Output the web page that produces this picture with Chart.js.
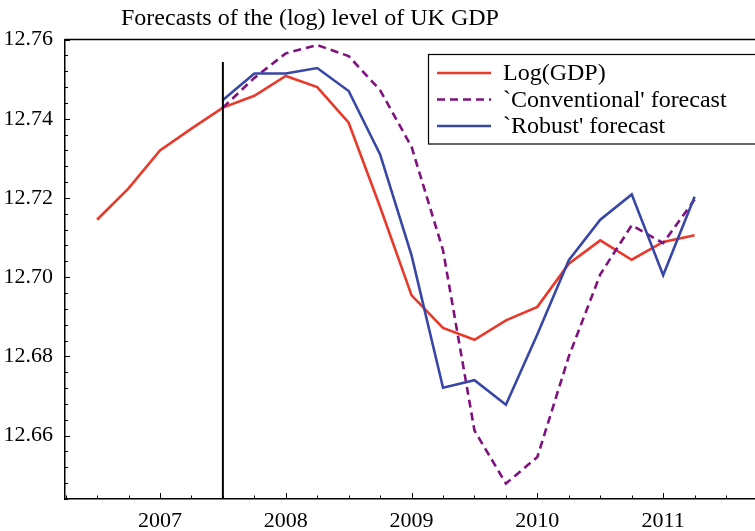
<!DOCTYPE html>
<html>
<head>
<meta charset="utf-8">
<script src="https://cdn.jsdelivr.net/npm/chart.js@4"></script>
<style>
  html, body { margin: 0; padding: 0; background: #fff; }
  #wrap { width: 755px; height: 531px; }
</style>
</head>
<body>
<div id="wrap"><canvas id="graf1"></canvas></div>
<script>
// quarterly dates (decimal years)
var quarters = [2006.5, 2006.75, 2007, 2007.25, 2007.5, 2007.75, 2008, 2008.25, 2008.5, 2008.75,
                2009, 2009.25, 2009.5, 2009.75, 2010, 2010.25, 2010.5, 2010.75, 2011, 2011.25];
var logGDP = [12.7145, 12.7224, 12.7320, 12.7375, 12.7428, 12.7458, 12.7508, 12.7480, 12.7390, 12.7177,
              12.6954, 12.6872, 12.6842, 12.6891, 12.6925, 12.7034, 12.7093, 12.7044, 12.7089, 12.7106];
// forecasts start at 2007Q3
var forecastQuarters = quarters.slice(4);
var conventional = [12.7428, 12.7503, 12.7565, 12.7586, 12.7558, 12.7472, 12.7329, 12.7068,
                    12.6613, 12.6479, 12.6546, 12.6800, 12.7007, 12.7131, 12.7086, 12.7196];
var robust = [12.7447, 12.7514, 12.7514, 12.7528, 12.7470, 12.7310, 12.7055, 12.6721,
              12.6740, 12.6678, 12.6856, 12.7043, 12.7145, 12.7209, 12.7005, 12.7203];

var xYears = [2007, 2008, 2009, 2010, 2011];
var yMajor = [12.66, 12.68, 12.70, 12.72, 12.74, 12.76];
var xRange = [2006.245, 2011.73];
var yRange = [12.644, 12.76];
var forecastStart = 2007.5;
var forecastLineTop = 12.7543;

var serif = "'Liberation Serif', 'DejaVu Serif', serif";
Chart.defaults.font.family = serif;
Chart.defaults.font.size = 22;
Chart.defaults.color = '#000';

function pts(xs, ys) {
  return xs.map(function(x, i) { return { x: x, y: ys[i] }; });
}
function isMajor(v, list) {
  return list.some(function(m) { return Math.abs(m - v) < 1e-6; });
}

// title, top border, inner tick marks, forecast line and legend
var decorations = {
  id: 'decorations',
  afterDraw: function(chart) {
    var ctx = chart.ctx;
    var area = chart.chartArea;
    var xs = chart.scales.x, ys = chart.scales.y;
    ctx.save();

    ctx.fillStyle = '#000';
    ctx.font = '24px ' + serif;
    ctx.textAlign = 'left';
    ctx.textBaseline = 'alphabetic';
    ctx.fillText('Forecasts of the (log) level of UK GDP', 121, 25);

    ctx.strokeStyle = '#000';
    ctx.lineWidth = 1.5;
    ctx.beginPath();
    ctx.moveTo(area.left, area.top);
    ctx.lineTo(area.right, area.top);
    ctx.stroke();

    ctx.lineWidth = 1;
    ctx.beginPath();
    xs.ticks.forEach(function(t) {
      var px = Math.round(xs.getPixelForValue(t.value)) + 0.5;
      var len = isMajor(t.value, xYears) ? 6 : 3.5;
      ctx.moveTo(px, area.bottom);
      ctx.lineTo(px, area.bottom - len);
    });
    ys.ticks.forEach(function(t) {
      var py = Math.round(ys.getPixelForValue(t.value)) + 0.5;
      var len = isMajor(t.value, yMajor) ? 5 : 3;
      ctx.moveTo(area.left, py);
      ctx.lineTo(area.left + len, py);
    });
    ctx.stroke();

    var vx = xs.getPixelForValue(forecastStart);
    ctx.lineWidth = 2;
    ctx.beginPath();
    ctx.moveTo(vx, ys.getPixelForValue(forecastLineTop));
    ctx.lineTo(vx, area.bottom);
    ctx.stroke();

    // legend box
    ctx.lineWidth = 1.2;
    ctx.strokeRect(428.5, 54.5, 340, 89.5);
    ctx.font = '24px ' + serif;
    ctx.textBaseline = 'middle';
    chart.data.datasets.forEach(function(ds, i) {
      var y = 73 + i * 26.5;
      ctx.strokeStyle = ds.borderColor;
      ctx.lineWidth = ds.borderWidth;
      ctx.setLineDash(ds.borderDash || []);
      ctx.beginPath();
      ctx.moveTo(437, y);
      ctx.lineTo(491, y);
      ctx.stroke();
      ctx.setLineDash([]);
      ctx.fillStyle = '#000';
      ctx.fillText(ds.label, 503, y + 1);
    });
    ctx.restore();
  }
};

var g1 = document.getElementById('graf1');
var chart = new Chart(g1, {
  type: 'line',
  data: {
    datasets: [
      {
        label: 'Log(GDP)',
        data: pts(quarters, logGDP),
        borderColor: '#e8392a',
        borderWidth: 2.6,
        pointRadius: 0,
        tension: 0,
        order: 3
      },
      {
        label: "`Conventional' forecast",
        data: pts(forecastQuarters, conventional),
        borderColor: '#80127f',
        borderWidth: 2.6,
        borderDash: [8, 5],
        pointRadius: 0,
        tension: 0,
        order: 2
      },
      {
        label: "`Robust' forecast",
        data: pts(forecastQuarters, robust),
        borderColor: '#3847a6',
        borderWidth: 2.6,
        pointRadius: 0,
        tension: 0,
        order: 1
      }
    ]
  },
  options: {
    responsive: true,
    maintainAspectRatio: false,
    animation: false,
    layout: { padding: { top: 39.5, right: 0, left: 0, bottom: 0 } },
    plugins: {
      legend: { display: false },
      title: { display: false },
      tooltip: { enabled: false }
    },
    scales: {
      x: {
        type: 'linear',
        min: xRange[0],
        max: xRange[1],
        afterFit: function(scale) {
          scale.height = 32;
          scale.paddingRight = 0;
          scale.paddingLeft = 0;
        },
        afterBuildTicks: function(scale) {
          var t = [];
          for (var v = 2006.25; v <= xRange[1] + 1e-9; v += 0.25) t.push({ value: v });
          scale.ticks = t;
        },
        grid: { display: false, drawTicks: false, tickLength: 0 },
        border: { display: true, color: '#000', width: 1.5 },
        ticks: {
          autoSkip: false,
          maxRotation: 0,
          padding: 9,
          font: { size: 22 },
          callback: function(v) { return isMajor(v, xYears) ? String(Math.round(v)) : ''; }
        }
      },
      y: {
        type: 'linear',
        min: yRange[0],
        max: yRange[1],
        afterFit: function(scale) { scale.width = 65; },
        afterBuildTicks: function(scale) {
          var t = [];
          for (var k = 0; k <= 29; k++) t.push({ value: yRange[0] + k * 0.004 });
          scale.ticks = t;
        },
        grid: { display: false, drawTicks: false, tickLength: 0 },
        border: { display: true, color: '#000', width: 1.5 },
        ticks: {
          autoSkip: false,
          padding: 12,
          font: { size: 22 },
          callback: function(v) { return isMajor(v, yMajor) ? v.toFixed(2) : ''; }
        }
      }
    }
  },
  plugins: [decorations]
});
</script>
</body>
</html>
